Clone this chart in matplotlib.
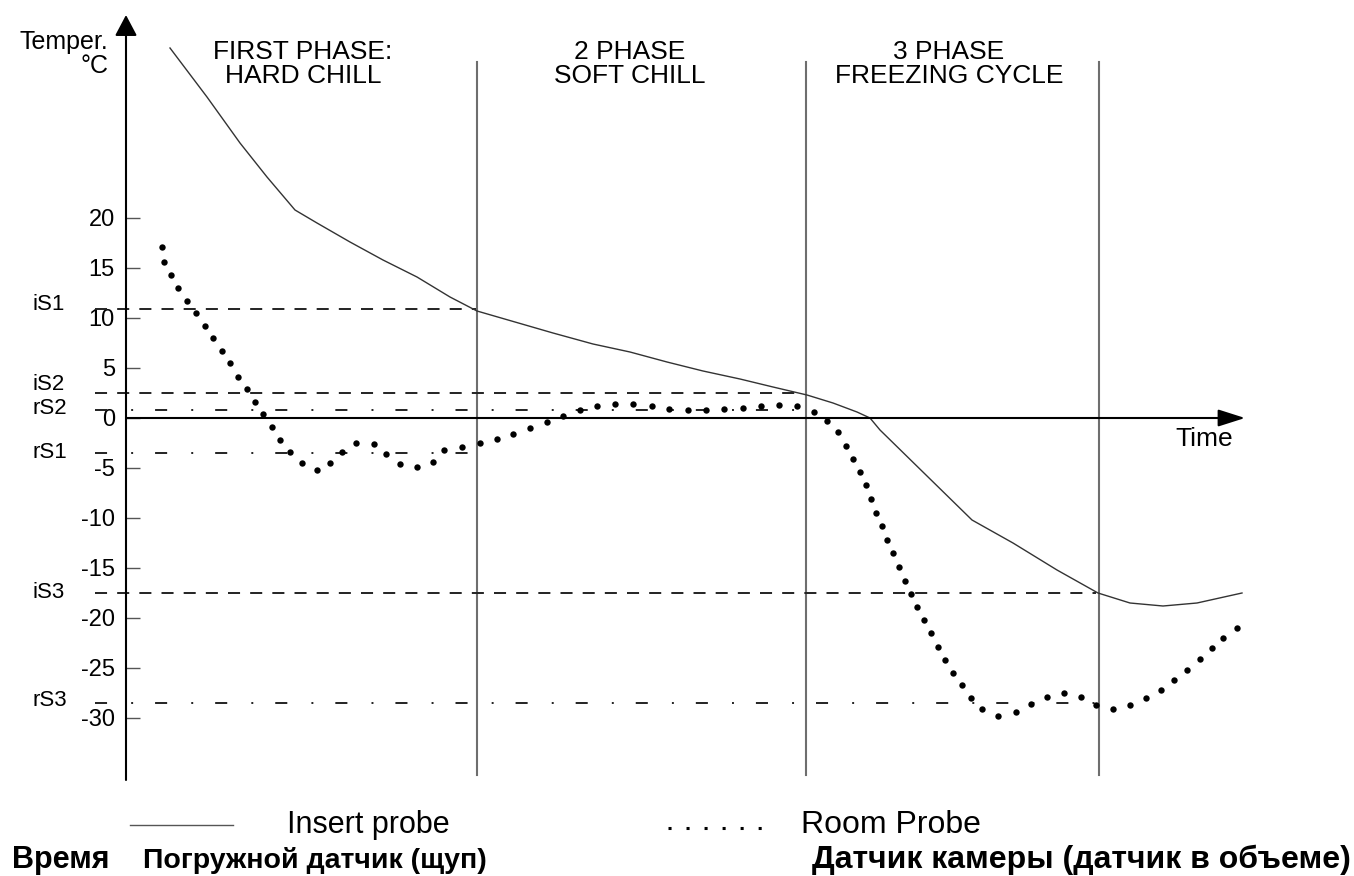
import matplotlib
matplotlib.use("Agg")
import matplotlib.pyplot as plt
from matplotlib.lines import Line2D

plt.rcParams['font.family'] = ['Liberation Sans', 'DejaVu Sans']

# insert probe (core of the product)
t_insert = [4.4, 8.1, 11.4, 14.1, 16.9, 19.1, 22.4, 25.7, 29.1, 32.4, 35.1,
            42.7, 46.7, 50.4, 54.1, 57.7, 61.4, 64.7, 68.1, 70.7, 73.1, 74.4,
            75.4, 80.0, 84.6, 88.7, 93.1, 97.2, 100.4, 103.7, 107.1, 111.6]
T_insert = [37.0, 32.1, 27.5, 24.1, 20.8, 19.5, 17.6, 15.8, 14.1, 12.1, 10.7,
            8.5, 7.4, 6.6, 5.6, 4.7, 3.9, 3.1, 2.3, 1.5, 0.6, 0.0,
            -1.2, -5.7, -10.2, -12.5, -15.2, -17.5, -18.5, -18.8, -18.5, -17.5]

# room probe (cabinet air)
t_room = [3.6, 3.8, 4.5, 5.2, 6.1, 7.0, 7.9, 8.7, 9.6, 10.4, 11.2, 12.1, 12.9,
          13.7, 14.6, 15.4, 16.4, 17.6, 19.1, 20.4, 21.6, 23.0, 24.8, 26.0,
          27.4, 29.1, 30.7, 31.8, 33.6, 35.4, 37.1, 38.7, 40.4, 42.1, 43.7,
          45.4, 47.1, 48.9, 50.7, 52.6, 54.3, 56.2, 58.0, 59.8, 61.7, 63.5,
          65.3, 67.1, 68.8, 70.1, 71.2, 72.0, 72.7, 73.4, 74.0, 74.5, 75.0,
          75.6, 76.1, 76.7, 77.3, 77.9, 78.5, 79.1, 79.8, 80.5, 81.2, 81.9,
          82.7, 83.6, 84.5, 85.6, 87.2, 89.0, 90.5, 92.1, 93.8, 95.5, 97.0,
          98.7, 100.4, 102.0, 103.5, 104.8, 106.1, 107.4, 108.6, 109.7, 111.1]
T_room = [17.1, 15.6, 14.3, 13.0, 11.7, 10.5, 9.2, 8.0, 6.7, 5.5, 4.1, 2.9, 1.6,
          0.4, -0.9, -2.2, -3.4, -4.5, -5.2, -4.5, -3.4, -2.5, -2.6, -3.6,
          -4.6, -4.9, -4.4, -3.2, -2.9, -2.5, -2.1, -1.6, -1.0, -0.4, 0.2,
          0.8, 1.2, 1.4, 1.4, 1.2, 0.9, 0.8, 0.8, 0.9, 1.0, 1.2,
          1.3, 1.2, 0.6, -0.3, -1.4, -2.8, -4.1, -5.4, -6.7, -8.1, -9.5,
          -10.8, -12.2, -13.5, -14.9, -16.3, -17.6, -18.9, -20.2, -21.5, -22.9, -24.2,
          -25.5, -26.7, -28.0, -29.1, -29.8, -29.4, -28.6, -27.9, -27.5, -27.9, -28.7,
          -29.1, -28.7, -28.0, -27.2, -26.2, -25.2, -24.1, -23.0, -22.0, -21.0]

phase_ends = [35.1, 68.0, 97.3]
phase_names = ["FIRST PHASE:\nHARD CHILL", "2 PHASE\nSOFT CHILL", "3 PHASE\nFREEZING CYCLE"]
phase_label_t = [17.7, 50.4, 82.3]

setpoint_names = ["iS1", "iS2", "rS2", "rS1", "iS3", "rS3"]
setpoint_vals = [10.9, 2.5, 0.8, -3.5, -17.5, -28.5]
setpoint_end = [35.0, 67.0, 67.0, 35.0, 97.0, 97.0]
setpoint_label_y = [11.3, 3.3, 0.9, -3.5, -17.5, -28.2]

yticks = [20, 15, 10, 5, 0, -5, -10, -15, -20, -25, -30]

W, H = 1354, 876
fig = plt.figure(figsize=(W / 100, H / 100), dpi=100)
ax = fig.add_axes([126 / W, (H - 780) / H, (1245 - 126) / W, (780 - 15) / H])
ax.set_xlim(0, 111.9)
ax.set_ylim(-36.2, 40.3)
for s in ax.spines.values():
    s.set_visible(False)
ax.set_xticks([])
ax.set_yticks(yticks)
ax.set_yticklabels([str(v) for v in yticks])
ax.tick_params(axis='y', direction='in', length=10, width=1, color='#555555',
               labelsize=17, pad=8)

# axes drawn as arrows
ax.annotate('', xy=(1, 0), xycoords=('axes fraction', 'data'),
            xytext=(0, 0), textcoords=('axes fraction', 'data'),
            arrowprops=dict(arrowstyle='-|>,head_length=1.1,head_width=0.35',
                            mutation_scale=15, lw=1.5, color='black',
                            shrinkA=0, shrinkB=0))
ax.annotate('', xy=(0, 1), xycoords='axes fraction',
            xytext=(0, 0), textcoords='axes fraction',
            arrowprops=dict(arrowstyle='-|>,head_length=0.85,head_width=0.45',
                            mutation_scale=15, lw=1.5, color='black',
                            shrinkA=0, shrinkB=0))

# phase separators and titles
for t in phase_ends:
    ax.plot([t, t], [35.6, -35.7], color='#6e6e6e', lw=1.5, clip_on=False)
for t, name in zip(phase_label_t, phase_names):
    ax.text(t, 35.4, name, ha='center', va='center', fontsize=19,
            linespacing=1.05, multialignment='center')

# set points
for name, v, end, ly in zip(setpoint_names, setpoint_vals, setpoint_end, setpoint_label_y):
    if name.startswith('i'):
        ls = (0, (6.2, 5.2))
    else:
        ls = (0, (6.2, 12.4, 1, 11.3))
    ax.plot([-3.1, end], [v, v], color='#222222', lw=1.4, linestyle=ls, clip_on=False)
    ax.text(-9.4, ly, name, ha='left', va='center', fontsize=16, clip_on=False)

ax.plot(t_insert, T_insert, color='#333333', lw=1.0)
ax.plot(t_room, T_room, ls='none', marker='o', ms=4.6, mew=0, color='black')

ax.text(-1.8, 37.6, "Temper.", ha='right', va='center', fontsize=18)
ax.text(-1.8, 35.2, "°C", ha='right', va='center', fontsize=18)
ax.text(110.7, -2.1, "Time", ha='right', va='center', fontsize=19)

# legend
fig.add_artist(Line2D([130 / W, 233 / W], [1 - 825 / H] * 2, color='#555555', lw=1))
fig.add_artist(Line2D([668 / W, 763 / W], [1 - 828 / H] * 2, color='black', lw=2.2,
                      linestyle=(0, (1, 4.9))))
fig.text(287 / W, 1 - 833 / H, "Insert probe", fontsize=22, va='baseline')
fig.text(801 / W, 1 - 833 / H, "Room Probe", fontsize=23, va='baseline')

ru = dict(weight='bold', va='baseline')
fig.text(12 / W, 1 - 868 / H, "Время", fontsize=22, **ru)
fig.text(143 / W, 1 - 868 / H, "Погружной датчик (щуп)", fontsize=20.5, **ru)
fig.text(812 / W, 1 - 868 / H, "Датчик камеры (датчик в объеме)", fontsize=23, **ru)

fig.savefig("out.png", dpi=100, facecolor='white')
